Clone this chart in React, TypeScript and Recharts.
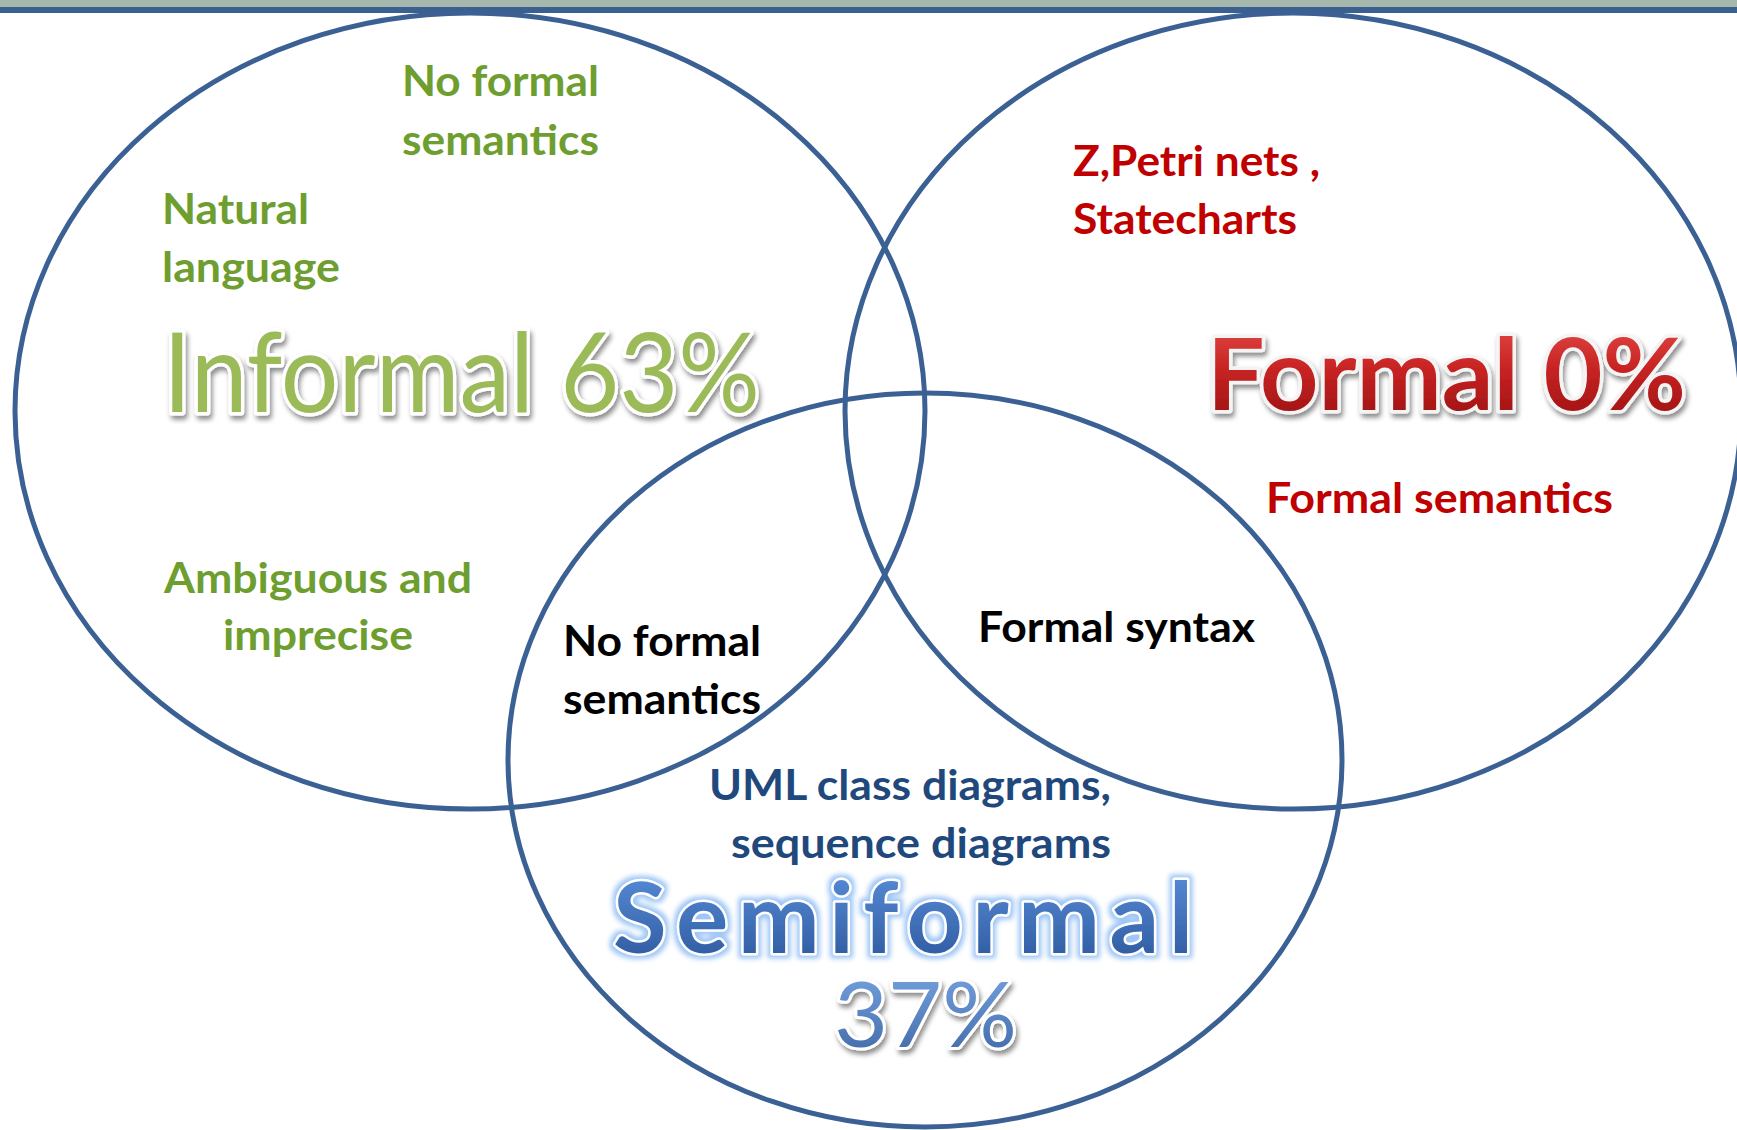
import React from 'react';
import { ScatterChart, Scatter, XAxis, YAxis, ReferenceArea } from 'recharts';

const W = 1737;
const H = 1130;

// the three kinds of notation and their share
const SET_NAMES = ['Informal', 'Formal', 'Semiformal'];
const SET_SHARES = [63, 0, 37];

// short notes written inside the regions
const NOTES = [
  'No formal', 'semantics', 'Natural', 'language', 'Ambiguous and', 'imprecise',
  'Z,Petri nets ,', 'Statecharts', 'Formal semantics',
  'No formal', 'semantics', 'Formal syntax',
  'UML class diagrams,', 'sequence diagrams',
];
const NOTE_KIND = ['green', 'green', 'green', 'green', 'green', 'green', 'red', 'red', 'red', 'black', 'black', 'black', 'blue', 'blue'];

// layout, in diagram units (1 unit = 1px)
const NOTE_X = [402, 402, 162, 162, 164, 223, 1073, 1073, 1266, 563, 563, 978, 709, 731];
const NOTE_Y = [96, 155, 224, 282, 593, 650, 176, 234, 513, 656, 714, 642, 800, 858];
const NOTE_W = [197, 197, 147, 178, 308, 190, 247, 224, 347, 198, 198, 277, 402, 380];

const TITLE_X = [163, 1207, 613, 834];
const TITLE_Y = [412, 410, 953, 1047];
const TITLE_W = [597, 479, 580, 183];

const ELLIPSE_X = [470, 1293, 925];
const ELLIPSE_Y = [411, 411, 760];
const ELLIPSE_RX = [455, 448, 417];
const ELLIPSE_RY = [398, 398, 367];

const NOTE_COLORS: Record<string, string> = {
  green: '#6e9e30',
  red: '#c00000',
  black: '#000000',
  blue: '#1f497d',
};

const FONT = 'Lato, "Open Sans", sans-serif';

const ellipseData = SET_NAMES.map((name, i) => ({
  name,
  x: ELLIPSE_X[i],
  y: ELLIPSE_Y[i],
  rx: ELLIPSE_RX[i],
  ry: ELLIPSE_RY[i],
}));

const noteData = NOTES.map((text, i) => ({
  text,
  kind: NOTE_KIND[i],
  x: NOTE_X[i],
  y: NOTE_Y[i],
  w: NOTE_W[i],
}));

const titleText = [
  `${SET_NAMES[0]} ${SET_SHARES[0]}%`,
  `${SET_NAMES[1]} ${SET_SHARES[1]}%`,
  SET_NAMES[2],
  `${SET_SHARES[2]}%`,
];

const titleData = titleText.map((text, i) => ({ text, idx: i, x: TITLE_X[i], y: TITLE_Y[i], w: TITLE_W[i] }));

const TITLE_STYLE = [
  { size: 110, weight: 400, fill: '#9bbb59', stroke: '#ffffff', sw: 7, filter: 'url(#shadow)', adjust: 'spacingAndGlyphs' },
  { size: 100, weight: 700, fill: 'url(#redGrad)', stroke: '#f4f4f4', sw: 7, filter: 'url(#shadow)', adjust: 'spacingAndGlyphs' },
  { size: 98, weight: 700, fill: 'url(#blueGrad)', stroke: '#ffffff', sw: 5, filter: 'url(#glow)', adjust: 'spacing' },
  { size: 92, weight: 400, fill: 'url(#blueGrad2)', stroke: '#ffffff', sw: 6, filter: 'url(#shadow)', adjust: 'spacingAndGlyphs' },
];

const EllipseShape = (props: any) => {
  const d = props.payload;
  return (
    <ellipse
      cx={props.cx}
      cy={props.cy}
      rx={d.rx}
      ry={d.ry}
      fill="none"
      stroke="#3b6194"
      strokeWidth={5}
    />
  );
};

const NoteShape = (props: any) => {
  const d = props.payload;
  return (
    <text
      x={props.cx}
      y={props.cy}
      fontFamily={FONT}
      fontWeight={700}
      fontSize={42}
      fill={NOTE_COLORS[d.kind]}
      textLength={d.w}
      lengthAdjust="spacingAndGlyphs"
    >
      {d.text}
    </text>
  );
};

const TitleShape = (props: any) => {
  const d = props.payload;
  const s = TITLE_STYLE[d.idx];
  return (
    <text
      x={props.cx}
      y={props.cy}
      fontFamily={FONT}
      fontWeight={s.weight}
      fontSize={s.size}
      fill={s.fill}
      stroke={s.stroke}
      strokeWidth={s.sw}
      strokeLinejoin="round"
      paintOrder="stroke"
      filter={s.filter}
      textLength={d.w}
      lengthAdjust={s.adjust}
    >
      {d.text}
    </text>
  );
};

export default function App() {
  return (
    <div style={{ position: 'absolute', left: 0, top: 0, width: W, height: H, background: '#ffffff' }}>
      <ScatterChart width={W} height={H} margin={{ top: 0, right: 0, bottom: 0, left: 0 }}>
        <defs>
          <linearGradient id="redGrad" x1="0" y1="0" x2="0" y2="1">
            <stop offset="0%" stopColor="#e8504c" />
            <stop offset="50%" stopColor="#c62222" />
            <stop offset="100%" stopColor="#951010" />
          </linearGradient>
          <linearGradient id="blueGrad" x1="0" y1="0" x2="0" y2="1">
            <stop offset="0%" stopColor="#5d93df" />
            <stop offset="100%" stopColor="#2a5599" />
          </linearGradient>
          <linearGradient id="blueGrad2" x1="0" y1="0" x2="0" y2="1">
            <stop offset="0%" stopColor="#7eaae8" />
            <stop offset="100%" stopColor="#3c64a2" />
          </linearGradient>
          <filter id="shadow" x="-10%" y="-20%" width="120%" height="150%">
            <feGaussianBlur in="SourceAlpha" stdDeviation="2.5" />
            <feOffset dx="2" dy="4" result="off" />
            <feFlood floodColor="#000000" floodOpacity="0.45" />
            <feComposite in2="off" operator="in" result="sh" />
            <feMerge>
              <feMergeNode in="sh" />
              <feMergeNode in="SourceGraphic" />
            </feMerge>
          </filter>
          <filter id="glow" x="-10%" y="-20%" width="120%" height="150%">
            <feMorphology in="SourceAlpha" operator="dilate" radius="3" />
            <feGaussianBlur stdDeviation="2.5" result="blur" />
            <feFlood floodColor="#9ec6f6" floodOpacity="1" />
            <feComposite in2="blur" operator="in" result="gl" />
            <feMerge>
              <feMergeNode in="gl" />
              <feMergeNode in="SourceGraphic" />
            </feMerge>
          </filter>
        </defs>
        <XAxis type="number" dataKey="x" domain={[0, W]} hide />
        <YAxis type="number" dataKey="y" domain={[0, H]} reversed hide />
        <ReferenceArea x1={0} x2={W} y1={0} y2={7} fill="#a6b7ae" fillOpacity={1} stroke="none" />
        <ReferenceArea x1={0} x2={W} y1={7} y2={13} fill="#3b6090" fillOpacity={1} stroke="none" />
        <Scatter data={ellipseData} shape={EllipseShape} isAnimationActive={false} />
        <Scatter data={noteData} shape={NoteShape} isAnimationActive={false} />
        <Scatter data={titleData} shape={TitleShape} isAnimationActive={false} />
      </ScatterChart>
    </div>
  );
}
